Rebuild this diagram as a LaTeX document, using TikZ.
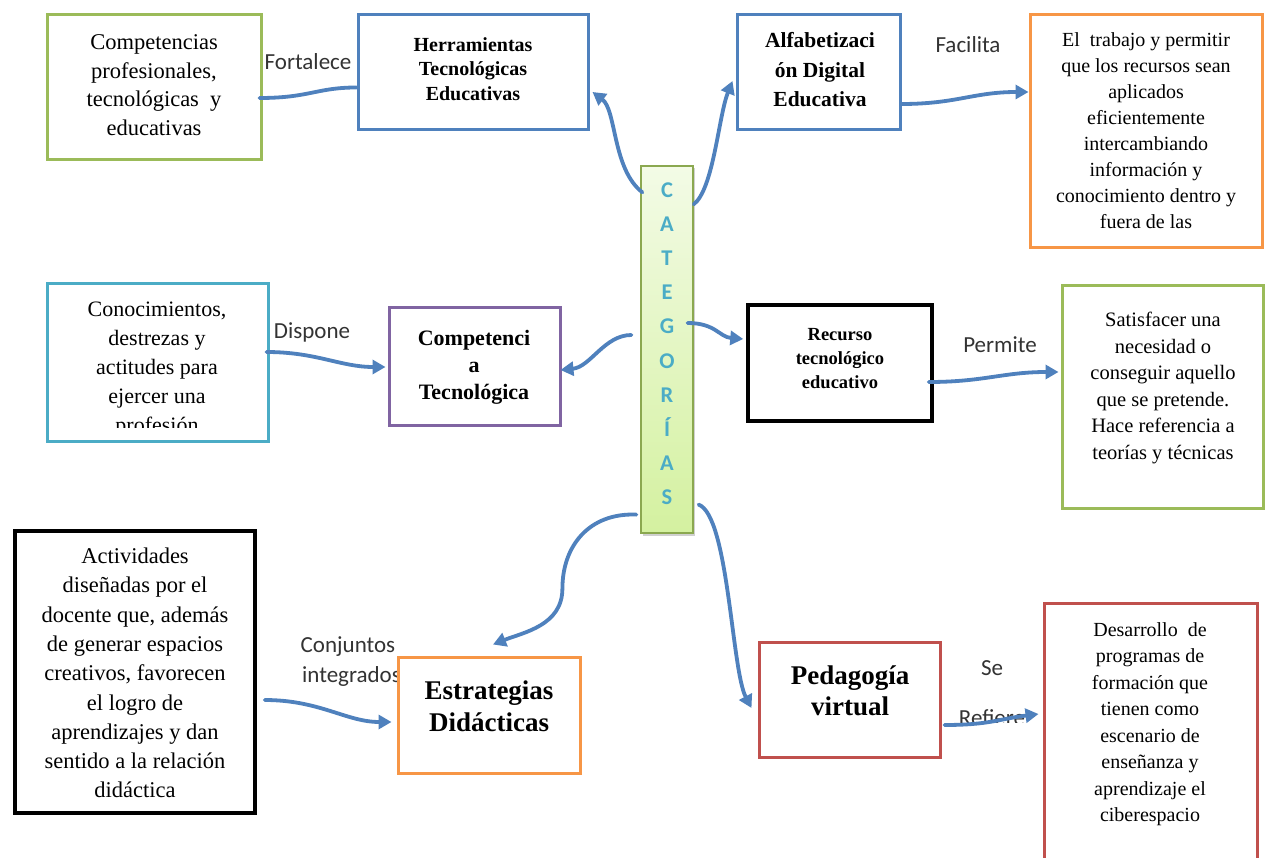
\documentclass[tikz,border=0pt]{standalone}
\usepackage{fontspec}
\setmainfont{Liberation Serif}
\newfontfamily\lblfont{Carlito}
\usetikzlibrary{arrows.meta,shadows}
\definecolor{cgreen}{HTML}{9BBB59}
\definecolor{cblue}{HTML}{4F81BD}
\definecolor{corange}{HTML}{F79646}
\definecolor{cteal}{HTML}{4BACC6}
\definecolor{cpurple}{HTML}{8064A2}
\definecolor{cred}{HTML}{C0504D}
\definecolor{catblue}{HTML}{4BACC6}
\definecolor{bartop}{HTML}{F3FBE6}
\definecolor{barbot}{HTML}{D4F1A0}
\begin{document}
\begin{tikzpicture}[x=1pt,y=-1pt,
  box/.style={draw, fill=white, line width=3pt, inner sep=0pt,
    drop shadow={shadow xshift=1.5pt,shadow yshift=-1.5pt,opacity=.3,fill=black!60}},
  txt/.style={align=center, inner sep=0pt},
  lbl/.style={inner sep=0pt, font=\lblfont\fontsize{23}{27}\selectfont, text=black!80},
  catl/.style={inner sep=0pt, font=\lblfont\fontsize{22.5}{22.5}\selectfont\bfseries, text=catblue, text height=14pt, text depth=0pt},
  conn/.style={draw=cblue, line width=3.8pt, line cap=round},
  arr/.style={conn, -{Triangle[length=13pt,width=14pt]}}
]
\useasboundingbox (0,0) rectangle (1265,858);
\fill[white] (0,0) rectangle (1265,858);

% labels (drawn first so boxes cover them)
\node[lbl] (lFort) at (308,62) {Fortalece};
\node[lbl] (lFac) at (968,45) {Facilita};
\node[lbl] (lDisp) at (312,332) {Dispone};
\node[lbl] (lPerm) at (1000,345) {Permite};
\node[lbl] (lConj) at (348,647) {Conjuntos};
\node[lbl, anchor=west] (lInt) at (302,676) {integrados};
\node[lbl] (lSe) at (992,668) {Se};
\begin{scope}
  \clip (950,700) rectangle (1040,722);
  \node[lbl] (lRef) at (992,718) {Refiere};
\end{scope}

% boxes
\node[box, draw=cgreen, minimum width=214pt, minimum height=145pt] (A) at (154,87.5) {};
\node[box, draw=cblue, minimum width=230pt, minimum height=115pt] (B) at (473,72.5) {};
\node[box, draw=cblue, minimum width=163pt, minimum height=115pt] (C) at (818.5,72.5) {};
\node[box, draw=corange, minimum width=232pt, minimum height=233pt] (D) at (1146,131.5) {};
\node[box, draw=cteal, minimum width=221pt, minimum height=157pt] (E) at (157.5,362.5) {};
\node[box, draw=cpurple, minimum width=171pt, minimum height=117pt] (F) at (474.5,366.5) {};
\node[box, draw=black, line width=3.5pt, minimum width=184pt, minimum height=116pt] (G) at (840,363) {};
\node[box, draw=cgreen, minimum width=201pt, minimum height=222pt] (H) at (1162.5,397) {};
\node[box, draw=black, line width=3.5pt, minimum width=240pt, minimum height=282pt] (I) at (135,672) {};
\node[box, draw=corange, minimum width=182pt, minimum height=116pt] (J) at (489,715) {};
\node[box, draw=cred, minimum width=181pt, minimum height=115pt] (K) at (849.5,699.5) {};
\node[box, draw=cred, minimum width=213pt, minimum height=267pt] (L) at (1150.5,736.5) {};

% central bar
\node[draw=cgreen!90!black, line width=1.2pt, top color=bartop, bottom color=barbot,
  minimum width=52pt, minimum height=367pt, inner sep=0pt,
  drop shadow={shadow xshift=1.5pt,shadow yshift=-2.5pt,opacity=.3,fill=black!60}] (bar) at (667,349.5) {};
\foreach \ch [count=\i] in {C,A,T,E,G,O,R,Í,A,S}
  \node[catl] (cat\i) at (667,{191+34*(\i-1)}) {\ch};

% box texts
\node[txt, font=\fontsize{22.5}{28.5}\selectfont] (tA) at (154,85) {Competencias\\profesionales,\\tecnológicas\ \ y\\educativas};
\node[txt, font=\fontsize{20}{24.5}\selectfont\bfseries] (tB) at (473,69) {Herramientas\\Tecnológicas\\Educativas};
\node[txt, font=\fontsize{21.5}{29.5}\selectfont\bfseries] (tC) at (820,70) {Alfabetizaci\\ón Digital\\Educativa};
\node[txt, font=\fontsize{20}{26}\selectfont] (tD) at (1146,131) {El\ \ trabajo y permitir\\que los recursos sean\\aplicados\\eficientemente\\intercambiando\\información y\\conocimiento dentro y\\fuera de las};
\begin{scope}
  \clip (47,284) rectangle (268,427);
  \node[txt, font=\fontsize{22}{29}\selectfont] (tE) at (157,370) {Conocimientos,\\destrezas y\\actitudes para\\ejercer una\\profesión};
\end{scope}
\node[txt, font=\fontsize{22}{27}\selectfont\bfseries] (tF) at (474,367) {Competenci\\a\\Tecnológica};
\node[txt, font=\fontsize{18.5}{24}\selectfont\bfseries] (tG) at (840,359) {Recurso\\tecnológico\\educativo};
\node[txt, font=\fontsize{20.5}{26.5}\selectfont] (tH) at (1163,388) {Satisfacer una\\necesidad o\\conseguir aquello\\que se pretende.\\Hace referencia a\\teorías y técnicas};
\node[txt, font=\fontsize{22.5}{29.3}\selectfont] (tI) at (135,673) {Actividades\\diseñadas por el\\docente que, además\\de generar espacios\\creativos, favorecen\\el logro de\\aprendizajes y dan\\sentido a la relación\\didáctica};
\node[txt, font=\fontsize{27}{32}\selectfont\bfseries] (tJ) at (489,706) {Estrategias\\Didácticas};
\node[txt, font=\fontsize{27}{31}\selectfont\bfseries] (tK) at (850,691) {Pedagogía\\virtual};
\node[txt, font=\fontsize{20}{26.5}\selectfont] (tL) at (1150,724) {Desarrollo\ \ de\\programas de\\formación que\\tienen como\\escenario de\\enseñanza y\\aprendizaje el\\ciberespacio};

% connectors
\draw[conn] ([xshift=-3pt,yshift=-10.5pt]A.east) .. controls +(50,0) and +(-40,0) .. ([yshift=-15pt]B.west);
\draw[arr] ([xshift=2pt,yshift=-27pt]bar.north west) .. controls +(-30,-23) and +(24,18) .. ([xshift=3pt,yshift=-19.5pt]B.east);
\draw[arr] ([yshift=-39pt]bar.north east) .. controls +(20,-15) and +(-14,35) .. ([xshift=-3pt,yshift=-8.5pt]C.west);
\draw[arr] ([yshift=-31.5pt]C.east) .. controls +(55,0) and +(-55,0) .. ([yshift=39.5pt]D.west);
\draw[arr] ([xshift=-9pt,yshift=14.5pt]bar.west) .. controls +(-27,0) and +(30,-3) .. ([xshift=-1pt,yshift=-3.5pt]F.east);
\draw[arr] ([xshift=-6pt,yshift=26.5pt]bar.east) .. controls +(28,0) and +(-24,-2) .. ([xshift=-3pt,yshift=24pt]G.west);
\draw[arr] ([xshift=-5pt,yshift=-19pt]G.east) .. controls +(55,0) and +(-55,0) .. ([xshift=-2pt,yshift=25pt]H.west);
\draw[arr] ([xshift=-3pt,yshift=10.5pt]E.east) .. controls +(50,0) and +(-45,0) .. ([xshift=-2pt,yshift=-0.5pt]F.west);
\draw[arr] ([xshift=-4pt,yshift=19pt]bar.south west) .. controls +(-47,-2) and +(0,-43) .. ++(-74,74) .. controls +(0,37) and +(30,-12) .. ([xshift=4pt,yshift=11pt]J.north);
\draw[arr] ([xshift=5pt,yshift=29pt]bar.south east) .. controls +(30,11) and +(-20,-38) .. ([xshift=-6pt,yshift=-8.5pt]K.west);
\draw[arr] ([xshift=8pt,yshift=-28pt]I.east) .. controls +(55,0) and +(-45,0) .. ([xshift=-5pt,yshift=-7pt]J.west);
\draw[arr] ([xshift=3pt,yshift=-25.5pt]K.east) .. controls +(45,0) and +(-40,5) .. ([xshift=-4pt,yshift=22.5pt]L.west);
\end{tikzpicture}
\end{document}
